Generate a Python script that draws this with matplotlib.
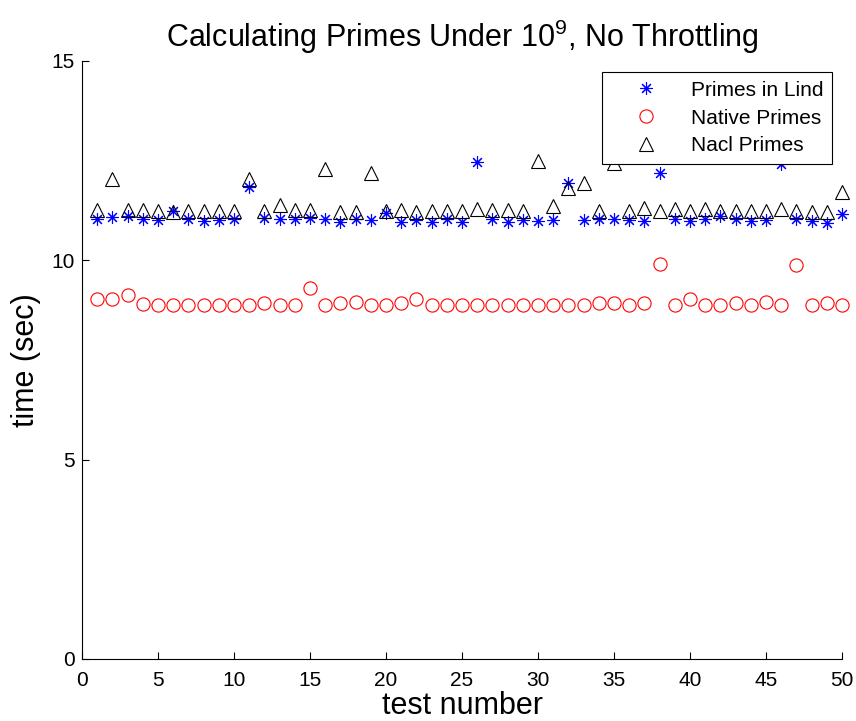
import matplotlib
matplotlib.use("Agg")
import matplotlib.pyplot as plt

plt.rcParams['font.family'] = ['Liberation Sans', 'DejaVu Sans']
plt.rcParams['mathtext.fontset'] = 'custom'
plt.rcParams['mathtext.rm'] = 'Liberation Sans'
plt.rcParams['mathtext.it'] = 'Liberation Sans'
plt.rcParams['mathtext.default'] = 'regular'

test_number = list(range(1, 51))

lind = [11.03, 11.09, 11.11, 11.03, 11.00, 11.24, 11.03, 10.99, 11.00, 11.04,
        11.84, 11.07, 11.03, 11.03, 11.05, 11.03, 10.96, 11.03, 11.00, 11.19,
        10.96, 11.00, 10.96, 11.03, 10.96, 12.47, 11.04, 10.96, 11.00, 10.98,
        11.00, 11.95, 11.00, 11.04, 11.03, 11.00, 10.99, 12.19, 11.04, 10.98,
        11.03, 11.11, 11.03, 10.98, 11.00, 12.42, 11.04, 10.98, 10.94, 11.15]

native = [9.02, 9.04, 9.13, 8.90, 8.88, 8.88, 8.88, 8.88, 8.88, 8.88,
          8.88, 8.93, 8.88, 8.88, 9.30, 8.88, 8.92, 8.95, 8.89, 8.89,
          8.92, 9.02, 8.89, 8.89, 8.89, 8.89, 8.89, 8.89, 8.89, 8.89,
          8.88, 8.88, 8.89, 8.92, 8.92, 8.88, 8.93, 9.90, 8.89, 9.02,
          8.89, 8.88, 8.93, 8.88, 8.96, 8.89, 9.88, 8.88, 8.92, 8.89]

nacl = [11.26, 12.03, 11.26, 11.26, 11.23, 11.22, 11.23, 11.23, 11.23, 11.23,
        12.03, 11.23, 11.39, 11.26, 11.27, 12.29, 11.21, 11.21, 12.20, 11.24,
        11.26, 11.21, 11.24, 11.24, 11.24, 11.28, 11.26, 11.26, 11.24, 12.49,
        11.36, 11.82, 11.95, 11.24, 12.45, 11.24, 11.32, 11.24, 11.28, 11.24,
        11.29, 11.24, 11.24, 11.24, 11.25, 11.28, 11.24, 11.21, 11.21, 11.72]

series_labels = ['Primes in Lind', 'Native Primes', 'Nacl Primes']
x_ticks = [0, 5, 10, 15, 20, 25, 30, 35, 40, 45, 50]
y_ticks = [0, 5, 10, 15]

W, H = 856, 721
fig = plt.figure(figsize=(W / 100, H / 100), dpi=100)
ax = fig.add_axes([82 / W, 1 - 659 / H, (842 - 82) / W, (659 - 61) / H])

asterisk = (8, 2, 0)
ax.plot(test_number, lind, linestyle='none', marker=asterisk, markersize=9,
        markeredgecolor='#0000ff', markeredgewidth=0.8, label=series_labels[0],
        clip_on=False)
ax.plot(test_number, native, linestyle='none', marker='o', markersize=9.5,
        markerfacecolor='none', markeredgecolor='#ff0000', markeredgewidth=0.8,
        label=series_labels[1], clip_on=False)
ax.plot(test_number, nacl, linestyle='none', marker='^', markersize=10,
        markerfacecolor='none', markeredgecolor='black', markeredgewidth=0.8,
        label=series_labels[2], clip_on=False)

ax.set_xlim(0, 50)
ax.set_ylim(0, 15)
ax.set_xticks(x_ticks)
ax.set_yticks(y_ticks)
ax.spines['top'].set_visible(False)
ax.spines['right'].set_visible(False)
for s in ('left', 'bottom'):
    ax.spines[s].set_linewidth(0.8)
ax.tick_params(axis='both', direction='in', length=5, width=0.8, labelsize=15)
ax.tick_params(axis='x', pad=9)
ax.tick_params(axis='y', pad=5)

ax.set_title('Calculating Primes Under 10$^{9}$, No Throttling', fontsize=22, pad=10)
ax.set_xlabel('test number', fontsize=22, labelpad=0)
ax.set_ylabel('time (sec)', fontsize=22, labelpad=8)

leg = fig.legend(loc='upper right', bbox_to_anchor=(832 / W, 1 - 72 / H),
                 fontsize=15, frameon=True, fancybox=False, framealpha=1,
                 edgecolor='black', borderpad=0.42, labelspacing=0.42,
                 handletextpad=0.52, handlelength=3.3, borderaxespad=0)
leg.get_frame().set_linewidth(0.8)

fig.savefig('out.png', dpi=100)
